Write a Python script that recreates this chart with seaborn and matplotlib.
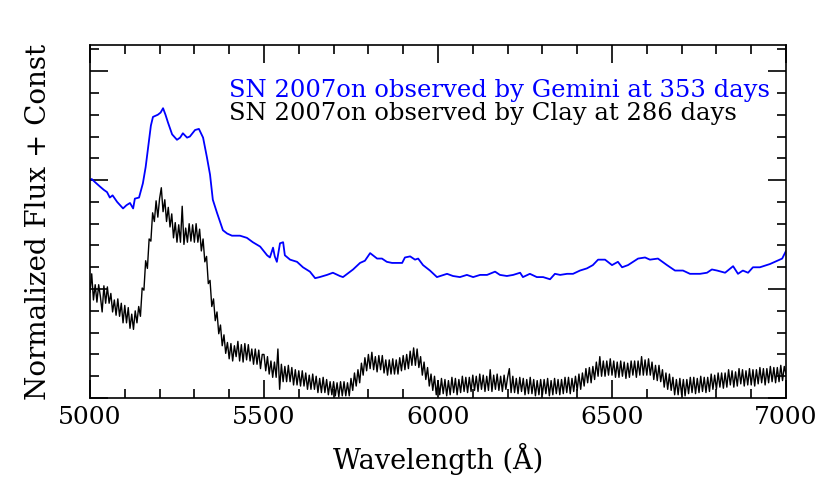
import numpy as np
import pandas as pd
import seaborn as sns
import matplotlib.pyplot as plt
from matplotlib.ticker import MultipleLocator

# Gemini spectrum (353 d)
gemini_wave = [5000, 5005, 5015, 5029, 5040, 5049, 5057, 5065, 5078, 5095, 5105, 5115,
               5124, 5129, 5141, 5152, 5160, 5167, 5175, 5181, 5195, 5203, 5210, 5217,
               5224, 5236, 5250, 5259, 5267, 5279, 5287, 5302, 5313, 5325, 5336, 5345,
               5353, 5365, 5382, 5394, 5408, 5431, 5451, 5468, 5489, 5509, 5517, 5526,
               5531, 5537, 5546, 5555, 5560, 5575, 5595, 5612, 5632, 5647, 5660, 5681,
               5698, 5718, 5727, 5756, 5776, 5790, 5805, 5825, 5839, 5853, 5868, 5882,
               5897, 5905, 5920, 5934, 5943, 5957, 5977, 5997, 6026, 6043, 6063, 6083,
               6101, 6121, 6141, 6164, 6178, 6198, 6216, 6236, 6244, 6264, 6284, 6302,
               6322, 6336, 6351, 6371, 6388, 6408, 6428, 6445, 6460, 6480, 6500, 6517,
               6529, 6546, 6575, 6595, 6609, 6632, 6658, 6681, 6704, 6724, 6753, 6773,
               6787, 6802, 6825, 6848, 6862, 6876, 6891, 6905, 6925, 6954, 6989, 7000]
gemini_flux = [2.00, 2.01, 1.98, 1.94, 1.91, 1.89, 1.84, 1.86, 1.80, 1.74, 1.77, 1.79,
               1.74, 1.83, 1.84, 1.97, 2.12, 2.30, 2.50, 2.58, 2.60, 2.62, 2.66, 2.60,
               2.53, 2.42, 2.37, 2.39, 2.43, 2.39, 2.40, 2.46, 2.47, 2.39, 2.21, 2.05,
               1.82, 1.70, 1.54, 1.51, 1.49, 1.49, 1.47, 1.43, 1.39, 1.31, 1.29, 1.38,
               1.30, 1.25, 1.42, 1.43, 1.31, 1.27, 1.25, 1.20, 1.16, 1.10, 1.11, 1.13,
               1.15, 1.12, 1.11, 1.18, 1.24, 1.26, 1.33, 1.28, 1.28, 1.25, 1.24, 1.24,
               1.24, 1.29, 1.30, 1.27, 1.28, 1.22, 1.17, 1.11, 1.14, 1.12, 1.11, 1.13,
               1.11, 1.13, 1.13, 1.16, 1.13, 1.12, 1.13, 1.15, 1.11, 1.14, 1.11, 1.11,
               1.09, 1.14, 1.13, 1.14, 1.14, 1.17, 1.19, 1.22, 1.27, 1.27, 1.22, 1.25,
               1.20, 1.22, 1.28, 1.29, 1.27, 1.28, 1.22, 1.17, 1.17, 1.14, 1.14, 1.15,
               1.18, 1.17, 1.15, 1.21, 1.14, 1.17, 1.15, 1.20, 1.20, 1.23, 1.28, 1.35]

# Clay spectrum (286 d), 5 A sampling, one row per 100 A
clay_start, clay_step = 5000, 5
clay_flux = [
    0.97, 1.14, 0.90, 1.04, 0.88, 1.04, 0.93, 0.79, 1.03, 0.87, 1.02, 0.87, 0.96, 0.79, 0.90, 0.76, 0.91, 0.75, 0.87, 0.69,
    0.85, 0.69, 0.83, 0.64, 0.77, 0.63, 0.80, 0.69, 0.84, 0.75, 1.01, 0.99, 1.26, 1.19, 1.46, 1.44, 1.70, 1.62, 1.81, 1.66,
    1.83, 1.93, 1.71, 1.82, 1.62, 1.75, 1.57, 1.69, 1.47, 1.61, 1.43, 1.59, 1.43, 1.76, 1.41, 1.56, 1.43, 1.60, 1.44, 1.59,
    1.43, 1.60, 1.43, 1.55, 1.35, 1.46, 1.25, 1.30, 1.05, 1.08, 0.84, 0.91, 0.71, 0.79, 0.59, 0.67, 0.48, 0.58, 0.41, 0.51,
    0.36, 0.50, 0.34, 0.48, 0.38, 0.52, 0.34, 0.49, 0.33, 0.50, 0.35, 0.49, 0.34, 0.45, 0.31, 0.45, 0.31, 0.44, 0.27, 0.40,
    0.40, 0.25, 0.38, 0.22, 0.34, 0.19, 0.33, 0.19, 0.45, 0.08, 0.31, 0.15, 0.29, 0.15, 0.30, 0.15, 0.28, 0.12, 0.26, 0.12,
    0.25, 0.11, 0.25, 0.11, 0.23, 0.08, 0.21, 0.08, 0.22, 0.08, 0.20, 0.05, 0.18, 0.05, 0.19, 0.05, 0.17, 0.03, 0.15, 0.03,
    0.15, 0.02, 0.14, 0.01, 0.15, 0.02, 0.15, 0.02, 0.14, 0.02, 0.18, 0.07, 0.23, 0.11, 0.26, 0.14, 0.32, 0.21, 0.37, 0.25,
    0.40, 0.27, 0.42, 0.26, 0.38, 0.24, 0.39, 0.26, 0.39, 0.23, 0.35, 0.21, 0.35, 0.22, 0.36, 0.22, 0.35, 0.22, 0.37, 0.25,
    0.39, 0.26, 0.40, 0.27, 0.43, 0.30, 0.46, 0.30, 0.45, 0.28, 0.38, 0.21, 0.33, 0.17, 0.28, 0.11, 0.22, 0.07, 0.20, 0.03,
    0.16, 0.03, 0.18, 0.04, 0.17, 0.02, 0.16, 0.03, 0.19, 0.05, 0.18, 0.03, 0.17, 0.05, 0.20, 0.06, 0.19, 0.05, 0.19, 0.06,
    0.21, 0.07, 0.20, 0.06, 0.22, 0.08, 0.21, 0.06, 0.20, 0.07, 0.26, 0.06, 0.21, 0.08, 0.22, 0.07, 0.20, 0.06, 0.21, 0.08,
    0.19, 0.27, 0.05, 0.20, 0.05, 0.18, 0.04, 0.19, 0.06, 0.18, 0.03, 0.17, 0.04, 0.19, 0.04, 0.17, 0.02, 0.16, 0.03, 0.17,
    0.03, 0.17, 0.04, 0.18, 0.02, 0.16, 0.03, 0.18, 0.04, 0.17, 0.03, 0.17, 0.04, 0.19, 0.05, 0.19, 0.04, 0.18, 0.06, 0.20,
    0.07, 0.22, 0.08, 0.23, 0.11, 0.27, 0.14, 0.28, 0.14, 0.29, 0.17, 0.33, 0.20, 0.38, 0.20, 0.34, 0.20, 0.34, 0.21, 0.36,
    0.21, 0.34, 0.19, 0.33, 0.19, 0.34, 0.20, 0.33, 0.18, 0.32, 0.19, 0.34, 0.21, 0.34, 0.19, 0.34, 0.21, 0.38, 0.21, 0.35,
    0.21, 0.36, 0.21, 0.33, 0.17, 0.30, 0.16, 0.30, 0.15, 0.26, 0.10, 0.23, 0.08, 0.22, 0.07, 0.19, 0.03, 0.17, 0.03, 0.18,
    0.03, 0.17, 0.02, 0.17, 0.04, 0.19, 0.05, 0.19, 0.04, 0.18, 0.05, 0.20, 0.06, 0.19, 0.05, 0.19, 0.06, 0.22, 0.08, 0.21,
    0.08, 0.23, 0.10, 0.23, 0.09, 0.23, 0.10, 0.26, 0.12, 0.25, 0.10, 0.24, 0.11, 0.27, 0.13, 0.26, 0.11, 0.25, 0.12, 0.27,
    0.12, 0.26, 0.11, 0.26, 0.13, 0.28, 0.14, 0.27, 0.12, 0.27, 0.14, 0.29, 0.15, 0.28, 0.14, 0.28, 0.15, 0.30, 0.16, 0.29,
    0.22]
clay_wave = clay_start + clay_step * np.arange(len(clay_flux))

labels = ['SN 2007on observed by Gemini at 353 days',
          'SN 2007on observed by Clay at 286 days']
colors = ['#0000ff', 'black']

sns.set_style('ticks')
plt.rcParams['font.family'] = ['DejaVu Serif']
plt.rcParams['text.color'] = 'black'
plt.rcParams['axes.labelcolor'] = 'black'

fig = plt.figure(figsize=(8.3, 4.86), dpi=100)
ax = fig.add_axes([0.1084, 0.181, 0.8386, 0.7264])

df_g = pd.DataFrame({'wave': gemini_wave, 'flux': gemini_flux})
df_c = pd.DataFrame({'wave': clay_wave, 'flux': clay_flux})
sns.lineplot(data=df_c, x='wave', y='flux', ax=ax, color=colors[1], lw=1.0,
             estimator=None, sort=False)
sns.lineplot(data=df_g, x='wave', y='flux', ax=ax, color=colors[0], lw=1.3,
             estimator=None, sort=False)

ax.set_xlim(5000, 7000)
ax.set_ylim(0, 3.24)
ax.xaxis.set_major_locator(MultipleLocator(500))
ax.xaxis.set_minor_locator(MultipleLocator(100))
ax.yaxis.set_major_locator(MultipleLocator(1))
ax.yaxis.set_minor_locator(MultipleLocator(0.2))
ax.tick_params(which='both', direction='in', top=True, right=True, width=1.2,
               colors='black')
ax.tick_params(which='major', length=13)
ax.tick_params(which='minor', length=6.5)
ax.tick_params(axis='x', labelsize=18, pad=6)
ax.set_yticklabels([])
for s in ax.spines.values():
    s.set_linewidth(1.2)
    s.set_color('black')

ax.set_xlabel('Wavelength (Å)', fontsize=19.5, labelpad=10)
ax.set_ylabel('Normalized Flux + Const', fontsize=20, labelpad=24)

ax.text(0.2, 0.8725, labels[0], transform=ax.transAxes, ha='left', va='center',
        color=colors[0], fontsize=17.5)
ax.text(0.2, 0.807, labels[1], transform=ax.transAxes, ha='left', va='center',
        color=colors[1], fontsize=17.5)

fig.savefig('out.png', dpi=100)
